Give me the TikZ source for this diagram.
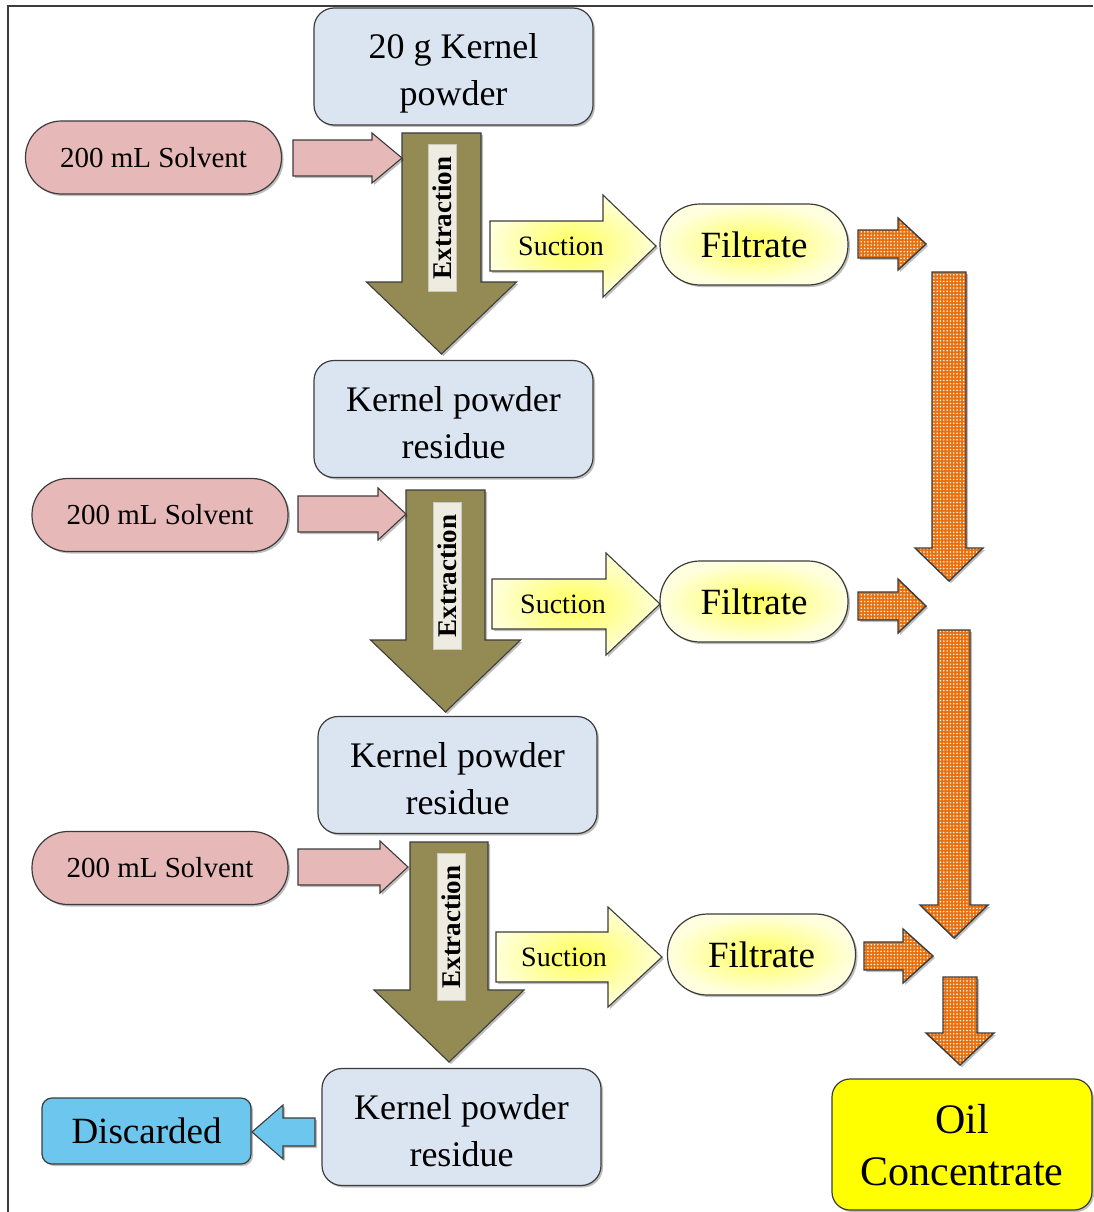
\documentclass[tikz,border=0pt]{standalone}
\usepackage{fontspec}
\setmainfont{Liberation Serif}
\usetikzlibrary{shadows,patterns}
\definecolor{boxblue}{HTML}{DBE5F1}
\definecolor{pinkfill}{HTML}{E6B9B8}
\definecolor{extolive}{HTML}{948A54}
\definecolor{labelbg}{HTML}{EEECE1}
\definecolor{skyblue}{HTML}{6DC6EE}
\definecolor{orangefill}{HTML}{E8700F}
\definecolor{edgegray}{HTML}{3C3C3C}
\definecolor{oilyellow}{HTML}{FFFF00}
\pgfdeclarepatternformonly{orangedots}{\pgfqpoint{-1pt}{-1pt}}{\pgfqpoint{1pt}{1pt}}{\pgfqpoint{3.3pt}{3.3pt}}%
  {\pgfpathcircle{\pgfqpoint{0pt}{0pt}}{0.85pt}\pgfusepath{fill}}
\newcommand\myHArrow[7]{\path[#1] (#2,{#5-#6}) -- (#3,{#5-#6}) -- (#3,{#5-#7}) -- (#4,#5) -- (#3,{#5+#7}) -- (#3,{#5+#6}) -- (#2,{#5+#6}) -- cycle;}
\newcommand\myVArrow[7]{\path[#1] ({#2-#6},#3) -- ({#2-#6},#4) -- ({#2-#7},#4) -- (#2,#5) -- ({#2+#7},#4) -- ({#2+#6},#4) -- ({#2+#6},#3) -- cycle;}
\newcommand\myKStrut{\rule{0pt}{31pt}}
\tikzset{
  shad/.style={drop shadow={shadow xshift=2pt,shadow yshift=-2pt,opacity=0.25,fill=black}},
  kbox/.style={draw=edgegray,line width=1.2pt,fill=boxblue,rounded corners=20pt,shad,
    minimum width=279pt,minimum height=117pt,align=center,inner sep=0pt,text depth=0pt,
    font=\fontsize{36}{47}\selectfont},
  solv/.style={draw=edgegray,line width=1.2pt,fill=pinkfill,rounded corners=36pt,shad,
    minimum width=256pt,minimum height=73pt,inner sep=0pt,font=\fontsize{29}{34}\selectfont},
  filt/.style={draw=edgegray,line width=1.2pt,rounded corners=40pt,shad,
    inner color=yellow!65,outer color=yellow!12,
    minimum width=188pt,minimum height=81pt,inner sep=0pt,font=\fontsize{37}{42}\selectfont},
  pinkarr/.style={draw=edgegray,line width=1.1pt,fill=pinkfill,shad},
  extarr/.style={draw=edgegray,line width=1.1pt,fill=extolive,shad},
  sucarr/.style={draw=edgegray,line width=1.1pt,inner color=yellow!65,outer color=yellow!15,shad},
  orarr/.style={draw=edgegray,line width=1.4pt,preaction={fill=orangefill,shad},pattern=orangedots,pattern color=white},
  bluearr/.style={draw=edgegray,line width=1.1pt,fill=skyblue,shad},
  exlabel/.style={fill=labelbg,draw=labelbg!85!black,line width=0.5pt,rotate=90,
    minimum width=147pt,minimum height=28pt,inner sep=0pt,font=\bfseries\fontsize{27}{30}\selectfont},
  suclabel/.style={inner sep=0pt,font=\fontsize{28}{32}\selectfont}
}
\begin{document}
\begin{tikzpicture}[x=1pt,y=-1pt]
\useasboundingbox (0,0) rectangle (1093,1212);
\fill[white] (0,0) rectangle (1093,1212);
\draw[edgegray,line width=1.2pt] (8,1212) -- (8,6) -- (1093,6);

% extraction arrows
\myVArrow{extarr}{441.5}{133}{282}{354}{39.5}{75}
\myVArrow{extarr}{445.5}{490}{640}{712}{39.5}{75}
\myVArrow{extarr}{449}{842}{990}{1062}{39}{75}
\node[exlabel] (x1) at (442,218) {Extraction};
\node[exlabel] (x2) at (447,576) {Extraction};
\node[exlabel] (x3) at (451,927) {Extraction};

% boxes
\node[kbox] (k1) at (453.5,66.5) {\myKStrut 20 g Kernel\\powder};
\node[kbox] (k2) at (453.5,419) {\myKStrut Kernel powder\\residue};
\node[kbox] (k3) at (457.5,775) {\myKStrut Kernel powder\\residue};
\node[kbox] (k4) at (461.5,1127) {\myKStrut Kernel powder\\residue};

\node[solv] (s1) at (153.5,157.5) {200 mL Solvent};
\node[solv] (s2) at (160,515) {200 mL Solvent};
\node[solv] (s3) at (160,868) {200 mL Solvent};

\node[filt] (f1) at (754,244.5) {Filtrate};
\node[filt] (f2) at (754,601.5) {Filtrate};
\node[filt] (f3) at (761.5,954.5) {Filtrate};

\node[draw=edgegray,line width=1.2pt,fill=skyblue,rounded corners=10pt,shad,
  minimum width=209pt,minimum height=66pt,inner sep=0pt,font=\fontsize{37}{42}\selectfont]
  (disc) at (146.5,1131) {Discarded};
\node[draw=edgegray,line width=1.2pt,fill=oilyellow,rounded corners=18pt,shad,
  minimum width=260pt,minimum height=131pt,inner sep=0pt,align=center,text depth=0pt,font=\fontsize{42}{52}\selectfont]
  (oil) at (962,1144.5) {Oil\\Concentrate};

% pink arrows
\myHArrow{pinkarr}{293}{372}{402}{158}{18}{25}
\myHArrow{pinkarr}{298}{378}{406}{514}{18}{26}
\myHArrow{pinkarr}{298}{380}{408}{867}{18}{26}

% suction arrows
\myHArrow{sucarr}{490}{603}{656}{246}{25}{51}
\myHArrow{sucarr}{492}{606}{660}{604}{25}{51}
\myHArrow{sucarr}{496}{608}{662}{957}{25}{50}
\node[suclabel] (u1) at (561,246) {Suction};
\node[suclabel] (u2) at (563,604) {Suction};
\node[suclabel] (u3) at (564,957) {Suction};

% orange arrows
\myHArrow{orarr}{858}{898}{926}{244}{14}{26}
\myHArrow{orarr}{858}{898}{926}{606}{14}{27}
\myHArrow{orarr}{864}{903}{933}{956}{14}{27}
\myVArrow{orarr}{949}{272}{548}{581}{17}{34}
\myVArrow{orarr}{954}{630}{905}{938}{16}{34}
\myVArrow{orarr}{960}{977}{1033}{1065}{17}{34}

% blue arrow
\myHArrow{bluearr}{315}{283}{252}{1132}{14}{27}
\end{tikzpicture}
\end{document}
